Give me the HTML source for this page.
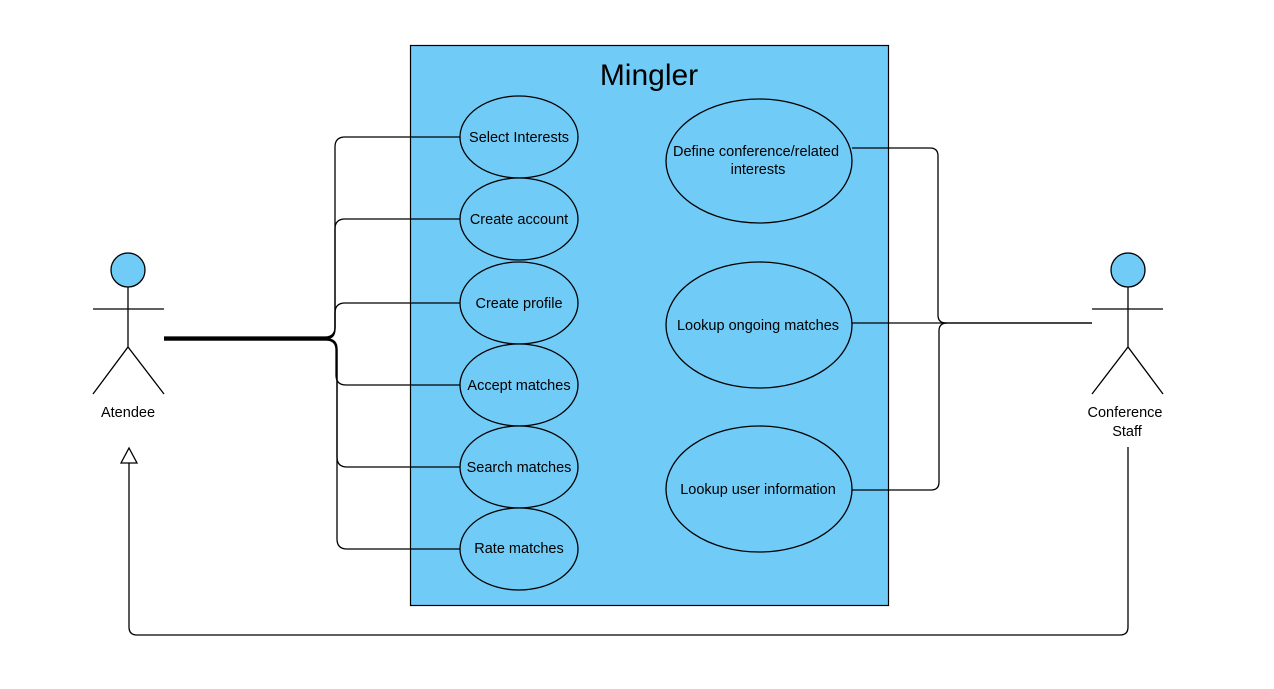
<!DOCTYPE html>
<html><head><style>body{margin:0;background:#fff}</style></head><body>
<svg width="1274" height="684" xmlns="http://www.w3.org/2000/svg" font-family="Liberation Sans, sans-serif">
<rect x="0" y="0" width="1274" height="684" fill="#fff"/>
<rect x="410.5" y="45.5" width="478" height="560" fill="#71cbf7" stroke="#000" stroke-width="1.2"/>
<text x="649" y="85" font-size="30" text-anchor="middle">Mingler</text>
<g fill="none" stroke="#000" stroke-width="1.3">
<path d="M164 337 H325 Q335 337 335 327 V147 Q335 137 345 137 H460"/>
<path d="M164 338 H325 Q335 338 335 328 V229 Q335 219 345 219 H460"/>
<path d="M164 339 H325 Q335 339 335 329 V313 Q335 303 345 303 H460"/>
<path d="M164 340 H326 Q336 340 336 350 V375 Q336 385 346 385 H462"/>
<path d="M164 340 H327 Q337 340 337 350 V457 Q337 467 347 467 H460"/>
<path d="M164 339 H327 Q337 339 337 349 V539 Q337 549 347 549 H460"/>
<path d="M852 148 H930 Q938 148 938 156 V315 Q938 323 946 323 H1092"/>
<path d="M852 323 H1092"/>
<path d="M852 490 H931 Q939 490 939 482 V331 Q939 323 947 323"/>
<path d="M1128 447 V627 Q1128 635 1120 635 H137 Q129 635 129 627 V463"/>
<path d="M121 463 L129 448 L137 463 Z" fill="#fff"/>
</g>
<g fill="#71cbf7" stroke="#000" stroke-width="1.3">
<ellipse cx="519" cy="137" rx="59" ry="41"/>
<ellipse cx="519" cy="219" rx="59" ry="41"/>
<ellipse cx="519" cy="303" rx="59" ry="41"/>
<ellipse cx="519" cy="385" rx="59" ry="41"/>
<ellipse cx="519" cy="467" rx="59" ry="41"/>
<ellipse cx="519" cy="549" rx="59" ry="41"/>
<ellipse cx="759" cy="161" rx="93" ry="62"/>
<ellipse cx="759" cy="325" rx="93" ry="63"/>
<ellipse cx="759" cy="489" rx="93" ry="63"/>
<circle cx="128" cy="270" r="17"/>
<circle cx="1128" cy="270" r="17"/>
</g>
<g fill="none" stroke="#000" stroke-width="1.3">
<path d="M128 287 V347 M93 309 H164 M93 394 L128 347 L164 394"/>
<path d="M1128 287 V347 M1092 309 H1163 M1092 394 L1128 347 L1163 394"/>
</g>
<g font-size="14.5" text-anchor="middle" fill="#000">
<text x="519" y="142">Select Interests</text>
<text x="519" y="224">Create account</text>
<text x="519" y="308">Create profile</text>
<text x="519" y="390">Accept matches</text>
<text x="519" y="472">Search matches</text>
<text x="519" y="553">Rate matches</text>
<text x="756" y="156">Define conference/related</text>
<text x="758" y="174">interests</text>
<text x="758" y="330">Lookup ongoing matches</text>
<text x="758" y="494">Lookup user information</text>
<text x="128" y="417">Atendee</text>
<text x="1125" y="417">Conference</text>
<text x="1127" y="436">Staff</text>
</g>
</svg>
</body></html>
